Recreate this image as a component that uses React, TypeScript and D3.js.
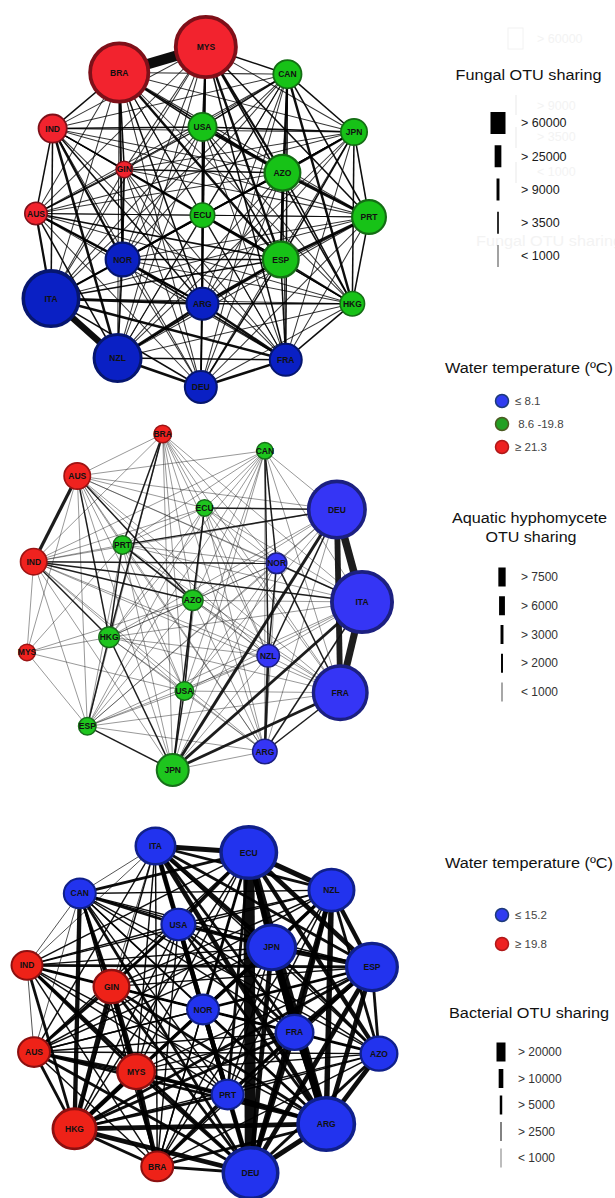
import React, { useEffect, useRef } from "react";
import * as d3 from "d3";

type Link = [string, string, number];

// ---------- Fungal network (top) ----------
const fungalNames = ["MYS", "BRA", "CAN", "IND", "USA", "JPN", "GIN", "AZO", "AUS", "ECU", "PRT", "NOR", "ESP", "ITA", "ARG", "HKG", "NZL", "FRA", "DEU"];
const fungalGroup = ["R", "R", "G", "R", "G", "G", "R", "G", "R", "G", "G", "B", "G", "B", "B", "G", "B", "B", "B"];
const fungalX = [0.02, -0.5, 0.51, -0.9, 0.0, 0.91, -0.47, 0.48, -1.0, 0.0, 1.0, -0.48, 0.47, -0.91, 0.0, 0.9, -0.51, 0.5, -0.01];
const fungalY = [-1.0, -0.85, -0.84, -0.52, -0.53, -0.5, -0.28, -0.26, -0.02, -0.01, 0.0, 0.25, 0.25, 0.48, 0.51, 0.51, 0.83, 0.84, 1.0];
const fungalSize = [32, 31, 15, 15, 15, 14, 9, 19, 12, 13, 18, 18, 19, 29.5, 17, 13, 25, 17, 17];
const fungalBase = 1500;
const fungalLinks: Link[] = [
  ["BRA", "MYS", 65000], ["ITA", "NZL", 40000],
  ["USA", "AZO", 14000], ["AZO", "PRT", 14000], ["ESP", "PRT", 14000], ["ITA", "ARG", 13000], ["NZL", "DEU", 13000],
  ["ITA", "FRA", 12000], ["NZL", "ARG", 12000], ["ARG", "FRA", 12000], ["DEU", "FRA", 12000], ["IND", "NZL", 12000],
  ["BRA", "ESP", 12000], ["AUS", "ITA", 10000], ["MYS", "ESP", 11000], ["CAN", "HKG", 11000], ["NOR", "ARG", 11000],
  ["NOR", "ECU", 10000], ["AUS", "NOR", 10000], ["ESP", "ARG", 10000], ["JPN", "AZO", 10000], ["MYS", "AZO", 10000],
  ["CAN", "ESP", 10000], ["BRA", "NOR", 9500], ["IND", "NOR", 10000], ["ITA", "NOR", 9500],
  ["MYS", "CAN", 5000], ["MYS", "USA", 5000], ["MYS", "ECU", 5000], ["MYS", "PRT", 5000], ["MYS", "HKG", 5000],
  ["MYS", "FRA", 5000], ["BRA", "USA", 5000], ["BRA", "GIN", 5000], ["BRA", "IND", 5000], ["BRA", "AZO", 5000],
  ["BRA", "ARG", 5000], ["IND", "USA", 5000], ["IND", "GIN", 5000], ["IND", "ITA", 5000], ["IND", "AUS", 5000],
  ["IND", "ARG", 5000], ["AUS", "ESP", 5000], ["AUS", "GIN", 5000], ["AUS", "ARG", 5000], ["AUS", "NZL", 5000],
  ["GIN", "AZO", 5000], ["GIN", "ESP", 5000], ["CAN", "JPN", 5000], ["CAN", "USA", 5000], ["CAN", "PRT", 5000],
  ["CAN", "FRA", 5000], ["JPN", "HKG", 5000], ["JPN", "PRT", 5000], ["JPN", "ESP", 5000], ["JPN", "USA", 5000],
  ["PRT", "HKG", 5000], ["HKG", "ESP", 5000], ["HKG", "FRA", 5000], ["HKG", "ARG", 5000], ["ECU", "ESP", 5000],
  ["ECU", "ARG", 5000], ["ECU", "AZO", 5000], ["NOR", "NZL", 5000], ["NOR", "FRA", 5000], ["ARG", "DEU", 5000],
  ["NZL", "FRA", 5000], ["ITA", "DEU", 5000], ["USA", "ECU", 5000], ["USA", "ESP", 5000], ["GIN", "NOR", 5000],
  ["ESP", "FRA", 5000], ["ESP", "DEU", 5000], ["ESP", "NZL", 5000], ["AZO", "ESP", 5000], ["AZO", "HKG", 5000],
  ["NOR", "ESP", 5000], ["ITA", "ESP", 5000],
];
const fungalLegendLabels = ["> 60000", "> 25000", "> 9000", "> 3500", "< 1000"];
const fungalLegendValues = [60000, 25000, 9000, 3500, 1000];

// ---------- Aquatic hyphomycete network (middle) ----------
const aquaticNames = ["BRA", "CAN", "AUS", "ECU", "DEU", "PRT", "IND", "NOR", "AZO", "ITA", "HKG", "MYS", "NZL", "USA", "FRA", "ESP", "ARG", "JPN"];
const aquaticGroup = ["R", "G", "R", "G", "B", "G", "R", "B", "G", "B", "G", "R", "B", "G", "B", "G", "B", "G"];
const aquaticX = [-0.19, 0.42, -0.7, 0.06, 0.85, -0.43, -0.96, 0.49, -0.01, 1.0, -0.51, -1.0, 0.44, -0.06, 0.87, -0.64, 0.42, -0.13];
const aquaticY = [-1.0, -0.9, -0.75, -0.56, -0.55, -0.34, -0.24, -0.23, -0.01, 0.0, 0.21, 0.3, 0.32, 0.53, 0.54, 0.74, 0.89, 1.0];
const aquaticSize = [9.5, 9, 14, 9, 30, 10, 14, 11, 11, 32, 11, 9, 12, 10, 28.5, 9.5, 13, 17];
const aquaticBase = 600;
const aquaticLinks: Link[] = [
  ["DEU", "ITA", 8500], ["ITA", "FRA", 8000], ["DEU", "FRA", 6500],
  ["AUS", "IND", 3500], ["JPN", "DEU", 3200], ["JPN", "ITA", 3100], ["JPN", "FRA", 3000], ["NZL", "ARG", 2800],
  ["AUS", "HKG", 1500], ["IND", "HKG", 1500], ["IND", "AZO", 1500], ["IND", "NOR", 1500], ["PRT", "AZO", 1500],
  ["ECU", "AZO", 1500], ["AZO", "USA", 1500], ["JPN", "USA", 1500], ["AZO", "JPN", 1500], ["NOR", "FRA", 1500],
  ["DEU", "ECU", 1500], ["DEU", "PRT", 1500], ["CAN", "NOR", 1500], ["BRA", "HKG", 1500], ["BRA", "PRT", 1500],
  ["HKG", "ESP", 1500], ["AUS", "AZO", 1500], ["PRT", "HKG", 1500], ["HKG", "JPN", 1500], ["ESP", "JPN", 1500],
  ["ARG", "FRA", 1500], ["ARG", "ITA", 1500], ["DEU", "NZL", 1500], ["ITA", "NOR", 1500], ["NOR", "NZL", 1500],
  ["CAN", "NZL", 1500], ["IND", "ITA", 1500],
];
const aquaticAbsent: [string, string][] = [
  ["MYS", "CAN"], ["MYS", "DEU"], ["MYS", "ITA"], ["MYS", "FRA"], ["MYS", "ARG"], ["MYS", "NOR"],
  ["MYS", "ECU"], ["MYS", "BRA"], ["MYS", "JPN"], ["MYS", "NZL"], ["BRA", "CAN"], ["BRA", "DEU"],
];
const aquaticLegendLabels = ["> 7500", "> 6000", "> 3000", "> 2000", "< 1000"];
const aquaticLegendValues = [7500, 6000, 3000, 2000, 1000];
const aquaticTempLabels = ["≤ 8.1", " 8.6 -19.8", "≥ 21.3"];
const aquaticTempGroups = ["B", "G", "R"];

// ---------- Bacterial network (bottom) ----------
const bacterialNames = ["ITA", "ECU", "CAN", "NZL", "USA", "JPN", "IND", "ESP", "GIN", "NOR", "FRA", "AUS", "AZO", "MYS", "PRT", "HKG", "ARG", "BRA", "DEU"];
const bacterialGroup = ["B", "B", "B", "B", "B", "B", "R", "B", "R", "B", "B", "R", "B", "R", "B", "R", "B", "R", "B"];
const bacterialX = [-0.27, 0.26, -0.7, 0.73, -0.14, 0.39, -1.0, 0.96, -0.52, 0.0, 0.52, -0.96, 1.0, -0.38, 0.14, -0.73, 0.7, -0.26, 0.27];
const bacterialY = [-1.0, -0.96, -0.71, -0.73, -0.52, -0.38, -0.27, -0.26, -0.14, 0.0, 0.14, 0.26, 0.27, 0.38, 0.52, 0.73, 0.7, 0.96, 1.0];
const bacterialSize = [21, 29.5, 17, 24, 18, 25.5, 16.5, 27, 19, 17, 20, 17, 19.5, 20, 17, 23, 30, 17, 29];
const bacterialBase = 2500;
const bacterialLinks: Link[] = [
  ["ECU", "DEU", 28000], ["ECU", "ARG", 19000], ["JPN", "ARG", 18000], ["NZL", "ARG", 13000],
  ["ITA", "ECU", 12000], ["ECU", "NZL", 12000], ["ECU", "ESP", 11000], ["ECU", "FRA", 11000], ["ECU", "JPN", 11000],
  ["JPN", "ESP", 11000], ["ESP", "ARG", 11000], ["ESP", "DEU", 11000], ["FRA", "DEU", 11000], ["JPN", "DEU", 11000],
  ["ITA", "DEU", 11000], ["ITA", "ARG", 11000], ["ARG", "DEU", 12000], ["AZO", "ARG", 11000], ["HKG", "ARG", 11000],
  ["HKG", "DEU", 11000], ["GIN", "MYS", 11000], ["GIN", "HKG", 11000], ["MYS", "HKG", 11000], ["CAN", "HKG", 10000],
  ["NZL", "DEU", 11000], ["NZL", "ESP", 10000], ["NZL", "FRA", 10000], ["ESP", "FRA", 10000], ["ITA", "JPN", 10000],
  ["ECU", "AZO", 10000], ["USA", "PRT", 10000], ["NOR", "PRT", 10000], ["MYS", "BRA", 10000],
  ["ITA", "USA", 6000], ["ITA", "NZL", 6000], ["ITA", "ESP", 6000], ["ITA", "FRA", 6000], ["ITA", "NOR", 6000],
  ["ITA", "PRT", 6000], ["ECU", "USA", 6000], ["ECU", "NOR", 6000], ["ECU", "PRT", 6000], ["ECU", "CAN", 6000],
  ["CAN", "USA", 6000], ["CAN", "GIN", 6000], ["CAN", "MYS", 6000], ["CAN", "DEU", 6000], ["USA", "JPN", 6000],
  ["USA", "FRA", 6000], ["USA", "DEU", 6000], ["USA", "ARG", 6000], ["JPN", "NZL", 6000], ["JPN", "FRA", 6000],
  ["JPN", "AZO", 6000], ["JPN", "NOR", 6000], ["NZL", "AZO", 6000], ["NZL", "NOR", 6000], ["ESP", "AZO", 6000],
  ["ESP", "NOR", 6000], ["ESP", "PRT", 6000], ["FRA", "ARG", 6000], ["FRA", "AZO", 6000], ["FRA", "NOR", 6000],
  ["AZO", "DEU", 6000], ["PRT", "DEU", 6000], ["PRT", "ARG", 6000], ["NOR", "DEU", 6000], ["NOR", "ARG", 6000],
  ["IND", "HKG", 6000], ["IND", "GIN", 6000], ["IND", "MYS", 6000], ["IND", "DEU", 6000], ["IND", "ESP", 6000],
  ["AUS", "HKG", 6000], ["AUS", "GIN", 6000], ["AUS", "MYS", 6000], ["AUS", "DEU", 6000], ["AUS", "ARG", 6000],
  ["GIN", "DEU", 6000], ["GIN", "ARG", 6000], ["GIN", "BRA", 6000], ["GIN", "NOR", 6000], ["MYS", "DEU", 6000],
  ["MYS", "ARG", 6000], ["MYS", "PRT", 6000], ["HKG", "BRA", 6000], ["HKG", "PRT", 6000], ["HKG", "FRA", 6000],
  ["HKG", "NOR", 6000], ["BRA", "DEU", 6000], ["BRA", "ARG", 6000], ["BRA", "PRT", 6000], ["HKG", "ESP", 6000],
  ["HKG", "JPN", 6000], ["ITA", "CAN", 900], ["IND", "CAN", 900], ["IND", "AUS", 900], ["IND", "ITA", 900],
  ["AUS", "CAN", 900], ["ITA", "GIN", 900],
];
const bacterialLegendLabels = ["> 20000", "> 10000", "> 5000", "> 2500", "< 1000"];
const bacterialLegendValues = [20000, 10000, 5000, 2500, 1000];
const bacterialTempLabels = ["≤ 15.2", "≥ 19.8"];
const bacterialTempGroups = ["B", "R"];

const FONT = "'Liberation Sans', Arial, Helvetica, sans-serif";

const palettes: Record<string, Record<string, [string, string]>> = {
  fungal: { R: ["#f2232e", "#7e1019"], G: ["#17c217", "#146d14"], B: ["#0a20c4", "#06166e"] },
  aquatic: { R: ["#f0221f", "#9c1414"], G: ["#1ec51e", "#17701a"], B: ["#3535f5", "#1c2080"] },
  bacterial: { R: ["#ee2218", "#8c1010"], B: ["#2233ee", "#10208a"] },
};
const legendDots: Record<string, [string, string]> = {
  B: ["#2f3cf0", "#1d3a7a"],
  G: ["#23a023", "#4b5a22"],
  R: ["#ee2020", "#b01818"],
};

const keyOf = (a: string, b: string) => (a < b ? `${a}|${b}` : `${b}|${a}`);

function drawNetwork(svg: any, net: any) {
  const x = d3.scaleLinear().domain([-1, 1]).range(net.xRange);
  const y = d3.scaleLinear().domain([-1, 1]).range(net.yRange);
  const radius = d3.scaleLinear().domain([0, 40]).range([0, 40]);
  const width = d3.scaleLinear().domain(net.weightDomain).range(net.widthRange);

  const pos: Record<string, [number, number]> = {};
  net.names.forEach((n: string, i: number) => (pos[n] = [x(net.x[i]), y(net.y[i])]));

  const weights = new Map<string, number>();
  net.links.forEach(([a, b, w]: Link) => weights.set(keyOf(a, b), w));
  const skip = new Set((net.absent || []).map(([a, b]: [string, string]) => keyOf(a, b)));
  const edges: { s: string; t: string; w: number }[] = [];
  for (let i = 0; i < net.names.length; i++) {
    for (let j = i + 1; j < net.names.length; j++) {
      const k = keyOf(net.names[i], net.names[j]);
      if (skip.has(k)) continue;
      edges.push({ s: net.names[i], t: net.names[j], w: weights.get(k) ?? net.base });
    }
  }
  edges.sort((a, b) => a.w - b.w);

  const g = svg.append("g");
  g.selectAll("line")
    .data(edges)
    .enter()
    .append("line")
    .attr("x1", (d: any) => pos[d.s][0])
    .attr("y1", (d: any) => pos[d.s][1])
    .attr("x2", (d: any) => pos[d.t][0])
    .attr("y2", (d: any) => pos[d.t][1])
    .style("stroke", net.edgeColor)
    .style("stroke-opacity", (d: any) => (width(d.w) < 1.2 ? net.thinOpacity : 0.95))
    .style("stroke-width", (d: any) => width(d.w));

  const nodes = g
    .selectAll(".node")
    .data(net.names)
    .enter()
    .append("g")
    .attr("class", "node")
    .attr("transform", (d: string) => `translate(${pos[d][0]},${pos[d][1]})`);

  nodes
    .append("ellipse")
    .attr("rx", (d: string, i: number) => radius(net.size[i]) - Math.max(1.5, net.size[i] * 0.12) / 2)
    .attr("ry", (d: string, i: number) => (radius(net.size[i]) - Math.max(1.5, net.size[i] * 0.12) / 2) * net.squash)
    .style("fill", (d: string, i: number) => net.palette[net.group[i]][0])
    .style("stroke", (d: string, i: number) => net.palette[net.group[i]][1])
    .style("stroke-width", (d: string, i: number) => Math.max(1.5, net.size[i] * 0.12));

  nodes
    .append("text")
    .attr("text-anchor", "middle")
    .attr("dy", "0.36em")
    .style("font-family", FONT)
    .style("font-weight", "bold")
    .style("font-size", "8.5px")
    .style("fill", "#111")
    .text((d: string) => d);
}

function drawTitle(svg: any, text: string, cx: number, baseline: number, len: number) {
  svg
    .append("text")
    .attr("x", cx)
    .attr("y", baseline)
    .attr("text-anchor", "middle")
    .attr("textLength", len)
    .attr("lengthAdjust", "spacingAndGlyphs")
    .style("font-family", FONT)
    .style("font-size", "14px")
    .style("fill", "#111")
    .text(text);
}

function drawWidthLegend(svg: any, lg: any) {
  const y = d3.scalePoint().domain(lg.labels).range(lg.yRange);
  const w = d3.scaleLinear().domain(lg.domain).range(lg.range);
  const g = svg.append("g");
  lg.labels.forEach((label: string, i: number) => {
    const bw = w(lg.values[i]);
    g.append("rect")
      .attr("x", lg.barX - bw / 2)
      .attr("y", (y(label) as number) - lg.barH / 2)
      .attr("width", bw)
      .attr("height", lg.barH)
      .style("fill", "#000")
      .style("opacity", bw < 1.5 ? 0.7 : 1);
    g.append("text")
      .attr("x", lg.textX)
      .attr("y", y(label))
      .attr("dy", "0.35em")
      .style("font-family", FONT)
      .style("font-size", `${lg.fontSize}px`)
      .style("fill", lg.color)
      .text(label);
  });
}

function drawTempLegend(svg: any, lg: any) {
  const y = d3.scalePoint().domain(lg.labels).range(lg.yRange);
  const g = svg.append("g");
  lg.labels.forEach((label: string, i: number) => {
    const c = legendDots[lg.groups[i]];
    g.append("circle")
      .attr("cx", lg.dotX)
      .attr("cy", y(label))
      .attr("r", 6.5)
      .style("fill", c[0])
      .style("stroke", c[1])
      .style("stroke-width", 1.5);
    g.append("text")
      .attr("x", lg.textX)
      .attr("y", y(label))
      .attr("dy", "0.35em")
      .style("font-family", FONT)
      .style("font-size", "11.5px")
      .style("fill", "#444")
      .style("white-space", "pre")
      .text(label);
  });
}

const App = () => {
  const ref = useRef<HTMLDivElement>(null);

  useEffect(() => {
    d3.select(ref.current).selectAll("*").remove();
    const svg = d3
      .select(ref.current)
      .append("svg")
      .attr("width", 615)
      .attr("height", 1198)
      .style("display", "block")
      .style("background", "#fff");

    // faint leftovers of an older legend in the top right corner
    const ghost = svg.append("g").style("fill", "#f3f3f3").style("font-family", FONT).style("font-size", "12.5px");
    ghost.append("rect").attr("x", 508).attr("y", 28).attr("width", 15).attr("height", 21)
      .style("fill", "none").style("stroke", "#f2f2f2");
    ghost.append("text").attr("x", 537).attr("y", 43).text("> 60000");
    ghost.append("text").attr("x", 537).attr("y", 110).text("> 9000");
    ghost.append("text").attr("x", 537).attr("y", 141).text("> 3500");
    ghost.append("text").attr("x", 537).attr("y", 176).text("< 1000");
    ghost.append("text").attr("x", 476).attr("y", 246).attr("textLength", 146)
      .attr("lengthAdjust", "spacingAndGlyphs").style("font-size", "14px").text("Fungal OTU sharing");
    [[95, 115], [127, 148], [162, 183]].forEach(([a, b]) =>
      ghost.append("line").attr("x1", 516).attr("x2", 516).attr("y1", a).attr("y2", b)
        .style("stroke", "#f0f0f0").style("stroke-width", 1.5)
    );

    drawNetwork(svg, {
      names: fungalNames, group: fungalGroup, x: fungalX, y: fungalY, size: fungalSize,
      links: fungalLinks, base: fungalBase, xRange: [36, 369], yRange: [47, 387],
      weightDomain: [0, 70000], widthRange: [0.8, 11], edgeColor: "#000", thinOpacity: 0.8,
      palette: palettes.fungal, squash: 1,
    });
    drawNetwork(svg, {
      names: aquaticNames, group: aquaticGroup, x: aquaticX, y: aquaticY, size: aquaticSize,
      links: aquaticLinks, base: aquaticBase, absent: aquaticAbsent, xRange: [27, 362], yRange: [434, 770],
      weightDomain: [0, 9000], widthRange: [0.2, 8], edgeColor: "#111", thinOpacity: 0.6,
      palette: palettes.aquatic, squash: 1,
    });
    drawNetwork(svg, {
      names: bacterialNames, group: bacterialGroup, x: bacterialX, y: bacterialY, size: bacterialSize,
      links: bacterialLinks, base: bacterialBase, xRange: [27, 379], yRange: [846, 1173],
      weightDomain: [0, 30000], widthRange: [0.5, 12], edgeColor: "#000", thinOpacity: 0.8,
      palette: palettes.bacterial, squash: 0.93,
    });

    drawTitle(svg, "Fungal OTU sharing", 528.5, 80, 146);
    drawWidthLegend(svg, {
      labels: fungalLegendLabels, values: fungalLegendValues, yRange: [123, 256],
      domain: [0, 60000], range: [0.8, 15], barX: 498, barH: 22, textX: 521, fontSize: 12.5, color: "#1a1a1a",
    });

    drawTitle(svg, "Water temperature (ºC)", 529, 373, 168);
    drawTempLegend(svg, { labels: aquaticTempLabels, groups: aquaticTempGroups, yRange: [401, 447], dotX: 502, textX: 515 });
    drawTitle(svg, "Aquatic hyphomycete", 529.5, 523, 155);
    drawTitle(svg, "OTU sharing", 531, 542, 91);
    drawWidthLegend(svg, {
      labels: aquaticLegendLabels, values: aquaticLegendValues, yRange: [577, 692],
      domain: [0, 7500], range: [0, 7.3], barX: 502, barH: 19, textX: 521, fontSize: 12, color: "#333",
    });

    drawTitle(svg, "Water temperature (ºC)", 529, 868, 168);
    drawTempLegend(svg, { labels: bacterialTempLabels, groups: bacterialTempGroups, yRange: [915, 944], dotX: 502, textX: 515 });
    drawTitle(svg, "Bacterial OTU sharing", 529, 1018, 160);
    drawWidthLegend(svg, {
      labels: bacterialLegendLabels, values: bacterialLegendValues, yRange: [1052, 1158],
      domain: [0, 20000], range: [0.3, 9], barX: 501, barH: 19, textX: 518, fontSize: 12, color: "#333",
    });
  }, []);

  return <div ref={ref} style={{ position: "absolute", left: 0, top: 0 }}></div>;
};

export default App;
